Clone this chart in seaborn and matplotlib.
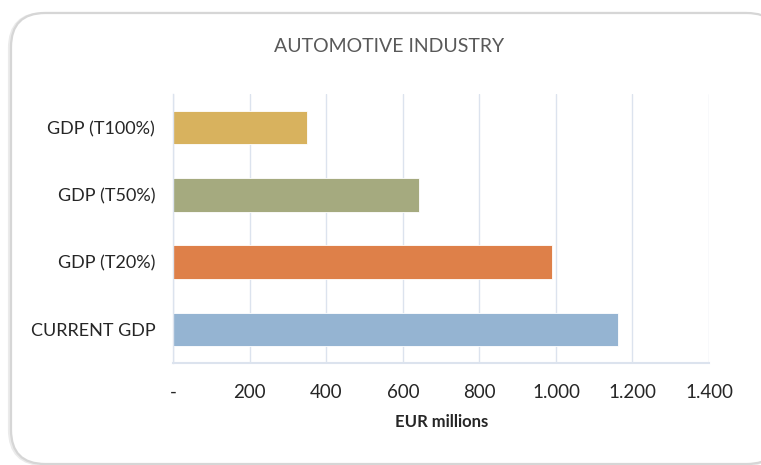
import matplotlib
matplotlib.use("Agg")
import matplotlib.pyplot as plt
from matplotlib.patches import FancyBboxPatch
from matplotlib.ticker import FuncFormatter, FixedLocator
import seaborn as sns
import pandas as pd

# Scenario labels (top to bottom) and their GDP values, EUR millions
scenarios = ["GDP (T100%)", "GDP (T50%)", "GDP (T20%)", "CURRENT GDP"]
gdp_values = [350, 641, 989, 1163]
bar_colors = ["#D8B25E", "#A5AA7F", "#DE8049", "#95B4D2"]
x_ticks = [0, 200, 400, 600, 800, 1000, 1200, 1400]

title_text = "AUTOMOTIVE INDUSTRY"
x_label = "EUR millions"

sns.set_theme(style="white")
plt.rcParams["font.family"] = ["Lato", "DejaVu Sans"]

df = pd.DataFrame({"scenario": scenarios, "gdp": gdp_values})

fig = plt.figure(figsize=(7.61, 4.65), dpi=100)
fig.patch.set_facecolor("white")

# rounded chart-area frame with a soft shadow
W, H = 761, 465
shadow = FancyBboxPatch((10 / W, 1 / H), 770 / W, 450 / H,
                        boxstyle="round,pad=0,rounding_size=0.045",
                        transform=fig.transFigure, facecolor="none",
                        edgecolor="#EBEBEB", linewidth=3.0, zorder=0,
                        mutation_aspect=W / H)
frame = FancyBboxPatch((11 / W, 1 / H), 770 / W, 451 / H,
                       boxstyle="round,pad=0,rounding_size=0.045",
                       transform=fig.transFigure, facecolor="white",
                       edgecolor="#D6D6D6", linewidth=1.6, zorder=1,
                       mutation_aspect=W / H)
fig.patches.extend([shadow, frame])

ax = fig.add_axes([173.3 / W, 1 - 363.3 / H, (709 - 173.3) / W, (363.3 - 94) / H])
ax.set_facecolor("none")
ax.set_zorder(2)

sns.barplot(data=df, x="gdp", y="scenario", hue="scenario", order=scenarios,
            hue_order=scenarios, palette=bar_colors, width=0.5, orient="h",
            legend=False, ax=ax, edgecolor="#FFFFFF", linewidth=0.6,
            saturation=1)

ax.set_xlim(0, 1400)
ax.set_ylim(3.5, -0.5)
ax.xaxis.set_major_locator(FixedLocator(x_ticks))
ax.xaxis.set_major_formatter(FuncFormatter(
    lambda v, _: "-" if v == 0 else f"{v:,.0f}".replace(",", ".")))

grid_color = "#DCE3EE"
ax.grid(axis="x", color=grid_color, linewidth=1.0)
ax.set_axisbelow(True)

for side in ["top", "right"]:
    ax.spines[side].set_visible(False)
ax.spines["left"].set_color(grid_color)
ax.spines["left"].set_linewidth(1.0)
ax.spines["bottom"].set_color(grid_color)
ax.spines["bottom"].set_linewidth(1.5)

ax.tick_params(axis="x", which="major", direction="out", length=5, width=1,
               color=grid_color, pad=10, labelsize=13.5, labelcolor="#262626")
ax.tick_params(axis="y", which="major", length=0, pad=13, labelsize=13,
               labelcolor="#262626")
ax.set_yticks([0.5, 1.5, 2.5], minor=True)
ax.tick_params(axis="y", which="minor", direction="out", length=5, width=1,
               color=grid_color)

ax.set_ylabel("")
ax.set_xlabel(x_label, fontsize=12, fontweight="bold", color="#262626",
              labelpad=9)

fig.text(389 / W, 1 - 47 / H, title_text, ha="center", va="center",
         fontsize=14, color="#595959", zorder=3)

fig.savefig("out.png", dpi=100, facecolor="white")
